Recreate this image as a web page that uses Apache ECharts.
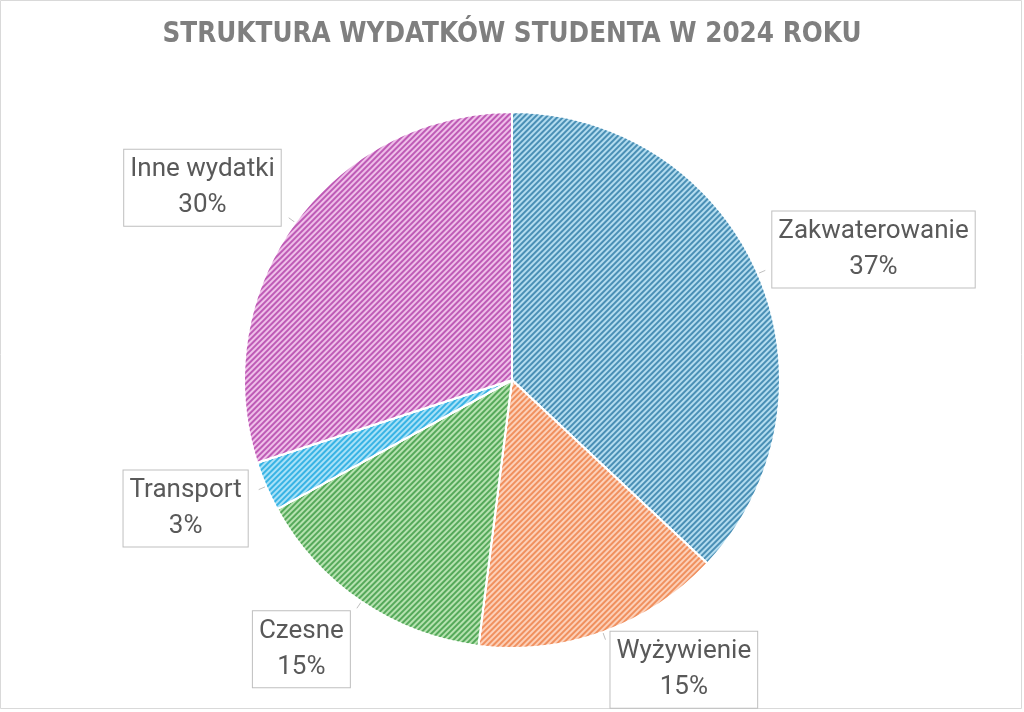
<!DOCTYPE html>
<html>
<head>
<meta charset="utf-8">
<script src="https://cdn.jsdelivr.net/npm/echarts@6/dist/echarts.min.js"></script>
<style>
  html, body { margin: 0; padding: 0; background: #fff; }
  #pie { width: 1024px; height: 712px; }
</style>
</head>
<body>
<div id="pie"></div>
<script>
// dane wykresu
var categories = ['Zakwaterowanie', 'Wyżywienie', 'Czesne', 'Transport', 'Inne wydatki'];
var shares = [37, 15, 15, 3, 30];
// kolory: tło wycinka i kolor paska (wzór ukośny)
var bgColors = ['#b3dcef', '#fcd0b9', '#b6e2b0', '#a9e1f7', '#efbfe9'];
var lineColors = ['#4a8fb5', '#f0905e', '#55a95a', '#38b3e4', '#be5bb6'];

// przesunięcia etykiet (dopasowanie do objaśnień z Excela)
var labelShift = [[2, -21], [0, 30], [-2, 41], [-6, 19], [-3, -30]];

var myChart = echarts.init(document.getElementById('pie'));

var seriesData = categories.map(function (name, i) {
  return {
    name: name,
    value: shares[i],
    itemStyle: {
      color: bgColors[i],
      decal: {
        symbol: 'rect',
        dashArrayX: [1, 0],
        dashArrayY: [1.6, 1.4],
        rotation: -Math.PI / 4,
        color: lineColors[i]
      }
    }
  };
});

var option = {
  backgroundColor: '#ffffff',
  animation: false,
  title: {
    text: 'STRUKTURA WYDATKÓW STUDENTA W 2024 ROKU',
    left: 'center',
    top: 16,
    textStyle: {
      fontFamily: "'DejaVu Sans Condensed', Roboto",
      fontWeight: 'bold',
      fontSize: 27.5,
      color: '#7f7f7f'
    }
  },
  graphic: [
    {
      type: 'rect',
      shape: { x: 0.5, y: 0.5, width: 1021, height: 708 },
      style: { fill: null, stroke: '#d9d9d9', lineWidth: 1 },
      silent: true
    }
  ],
  series: [
    {
      type: 'pie',
      center: [512, 380],
      radius: 268,
      startAngle: 90,
      clockwise: true,
      avoidLabelOverlap: false,
      data: seriesData,
      itemStyle: {
        borderColor: '#ffffff',
        borderWidth: 2
      },
      label: {
        show: true,
        position: 'outside',
        backgroundColor: '#ffffff',
        borderColor: '#bfbfbf',
        borderWidth: 1,
        padding: [2, 6],
        distanceToLabelLine: 5,
        formatter: function (p) {
          return '{n|' + p.name + '}\n{n|' + Math.round(p.percent) + '%}';
        },
        rich: {
          n: {
            fontFamily: 'Roboto',
            fontSize: 26,
            lineHeight: 36,
            color: '#595959',
            align: 'center'
          }
        }
      },
      labelLine: {
        show: true,
        length: 8,
        length2: 0,
        lineStyle: { color: '#bfbfbf', width: 1 }
      },
      labelLayout: function (params) {
        var s = labelShift[params.dataIndex];
        return { dx: s[0], dy: s[1] };
      },
      emphasis: { disabled: true }
    }
  ]
};

myChart.setOption(option);
</script>
</body>
</html>
